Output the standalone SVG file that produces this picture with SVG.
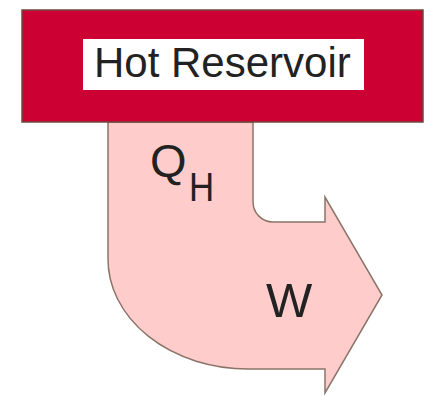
<svg xmlns="http://www.w3.org/2000/svg" width="426" height="396" viewBox="0 0 426 396">
  <style>
    .flow { fill: #ffcccc; stroke: #8a7468; stroke-width: 1.5; stroke-linejoin: miter; }
    .reservoir { fill: #cc0033; stroke: #6e4a3c; stroke-width: 1.5; }
    .label-box { fill: #ffffff; }
    .txt { font-family: "Liberation Sans", Arial, sans-serif; fill: #222222; }
  </style>

  <!-- heat flow arrow: enters from the reservoir, bends right into work output -->
  <g id="connectors">
    <path id="heat-flow" class="flow"
          d="M108,122 L108,258 A140,110 0 0 0 248,369 L325,369 L325,393 L382,295 L325,197 L325,222 L273,222 A20,20 0 0 1 253,202 L253,122 Z"/>
  </g>

  <!-- hot reservoir block -->
  <g id="hot-reservoir">
    <rect class="reservoir" x="22" y="10" width="401" height="112"/>
    <rect class="label-box" x="83" y="39" width="281" height="51"/>
    <text class="txt" x="94" y="77" font-size="42" fill="#333333">Hot Reservoir</text>
  </g>

  <!-- flow labels -->
  <g id="label-qh">
    <text class="txt" x="150" y="177" font-size="47">Q</text>
    <text class="txt" x="189" y="201" font-size="41" transform="translate(189,201) scale(0.85,1) translate(-189,-201)">H</text>
  </g>
  <g id="label-w">
    <text class="txt" x="266" y="317" font-size="49">W</text>
  </g>
</svg>
